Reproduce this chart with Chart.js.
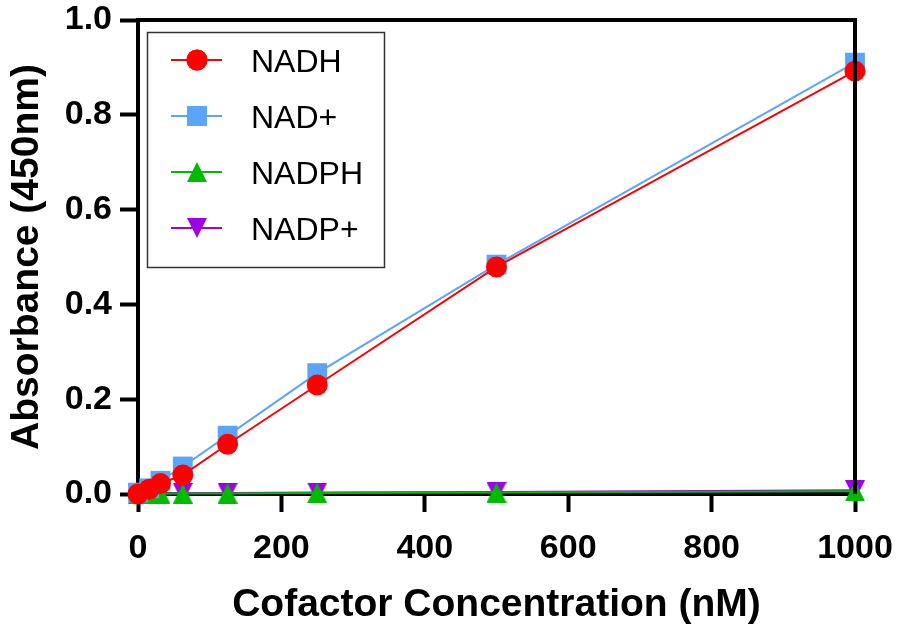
<!DOCTYPE html>
<html><head><meta charset="utf-8">
<script src="https://cdn.jsdelivr.net/npm/chart.js@4/dist/chart.umd.min.js"></script>
<style>html,body{margin:0;padding:0;background:#fff}#wrap{width:899px;height:626px}</style>
</head><body><div id="wrap"><canvas id="c" width="899" height="626"></canvas></div>
<script>
const concentrations = [0, 15.625, 31.25, 62.5, 125, 250, 500, 1000];
const nadh  = [0.000, 0.010, 0.022, 0.040, 0.105, 0.230, 0.479, 0.892];
const nadp  = [0.003, 0.012, 0.028, 0.058, 0.123, 0.255, 0.484, 0.910];
const nadph = [0.000, 0.000, 0.001, 0.001, 0.001, 0.002, 0.003, 0.006];
const nadpp = [0.001, 0.001, 0.001, 0.002, 0.002, 0.003, 0.004, 0.008];
const seriesNames = ["NADH", "NAD+", "NADPH", "NADP+"];
const xTicks = [0, 200, 400, 600, 800, 1000];
const yTicks = [0.0, 0.2, 0.4, 0.6, 0.8, 1.0];

const FONT = "'Liberation Sans', Arial, sans-serif";
const pts = arr => arr.map((v, i) => ({x: concentrations[i], y: v}));

function triCanvas(color, down) {
  const c = document.createElement('canvas');
  c.width = 20; c.height = 20;
  const g = c.getContext('2d');
  g.fillStyle = color;
  g.beginPath();
  if (!down) { g.moveTo(10, 0); g.lineTo(20, 20); g.lineTo(0, 20); }
  else { g.moveTo(0, 0); g.lineTo(20, 0); g.lineTo(10, 20); }
  g.closePath(); g.fill();
  return c;
}

const colors = ['#ff0000', '#5aa5f8', '#00bb00', '#a000e8'];
const styles = [
  {color: colors[0], pointStyle: 'circle', r: 10.5},
  {color: colors[1], pointStyle: 'rect', r: 14},
  {color: colors[2], pointStyle: triCanvas(colors[2], false), r: 10},
  {color: colors[3], pointStyle: triCanvas(colors[3], true), r: 10},
];
const dataArrays = [nadh, nadp, nadph, nadpp];
const datasets = dataArrays.map((arr, i) => ({
  label: seriesNames[i],
  data: pts(arr),
  borderColor: styles[i].color,
  backgroundColor: styles[i].color,
  borderWidth: 2,
  pointStyle: styles[i].pointStyle,
  pointRadius: styles[i].r,
  pointBorderWidth: 0,
  tension: 0,
  clip: false
}));

const framePlugin = {
  id: 'frame',
  afterDraw(chart) {
    const ctx = chart.ctx, a = chart.chartArea;
    ctx.save();
    ctx.strokeStyle = '#000';
    ctx.lineWidth = 4;
    ctx.beginPath();
    ctx.moveTo(a.left - 2, a.top); ctx.lineTo(a.right, a.top); ctx.lineTo(a.right, a.bottom);
    ctx.stroke();
    // legend
    const lx = 147.5, ly = 32.5, lw = 237, lh = 235;
    ctx.lineWidth = 1.5; ctx.strokeStyle = '#333';
    ctx.fillStyle = '#fff';
    ctx.fillRect(lx, ly, lw, lh);
    ctx.strokeRect(lx, ly, lw, lh);
    const rowY = [60, 116, 172, 228];
    for (let i = 0; i < 4; i++) {
      const s = styles[i], y = rowY[i];
      ctx.strokeStyle = s.color; ctx.lineWidth = 2;
      ctx.beginPath(); ctx.moveTo(171, y); ctx.lineTo(222, y); ctx.stroke();
      ctx.fillStyle = s.color;
      if (typeof s.pointStyle === 'string') {
        Chart.helpers.drawPoint(ctx, {pointStyle: s.pointStyle, radius: s.r, borderWidth: 0}, 197, y);
        ctx.fill();
      } else {
        ctx.drawImage(s.pointStyle, 187, y - 10, 20, 20);
      }
      ctx.fillStyle = '#000';
      ctx.font = '32px ' + FONT;
      ctx.textBaseline = 'alphabetic';
      ctx.textAlign = 'left';
      ctx.fillText(seriesNames[i], 251, y + 11.5);
    }
    ctx.restore();
  }
};

new Chart(document.getElementById('c'), {
  type: 'line',
  data: {datasets},
  options: {
    responsive: false,
    animation: false,
    layout: {padding: {top: 20, right: 44, left: 0, bottom: 0}},
    plugins: {legend: {display: false}, tooltip: {enabled: false}},
    scales: {
      x: {
        type: 'linear', min: 0, max: 1000,
        afterBuildTicks: s => { s.ticks = xTicks.map(v => ({value: v})); },
        afterFit: s => { s.height = 132; s.paddingLeft = 0; s.paddingRight = 0; },
        border: {color: '#000', width: 4},
        grid: {drawOnChartArea: false, color: '#000', tickLength: 18, tickWidth: 4},
        ticks: {color: '#000', font: {family: FONT, size: 34, weight: 'bold'}, padding: 16, maxRotation: 0,
                callback: v => String(v)},
        title: {display: true, text: 'Cofactor Concentration (nM)', color: '#000',
                font: {family: FONT, size: 39, weight: 'bold'}, padding: {top: 0, bottom: -3}}
      },
      y: {
        type: 'linear', min: 0, max: 1,
        afterBuildTicks: s => { s.ticks = yTicks.map(v => ({value: v})); },
        afterFit: s => { s.width = 138; s.paddingTop = 0; s.paddingBottom = 0; },
        border: {color: '#000', width: 4},
        grid: {drawOnChartArea: false, color: '#000', tickLength: 18, tickWidth: 4},
        ticks: {color: '#000', font: {family: FONT, size: 34, weight: 'bold'}, padding: 8,
                callback: v => v.toFixed(1)},
        title: {display: true, text: 'Absorbance (450nm)', color: '#000',
                font: {family: FONT, size: 39, weight: 'bold'}, padding: {top: 4, bottom: 0}}
      }
    }
  },
  plugins: [framePlugin]
});
</script></body></html>
